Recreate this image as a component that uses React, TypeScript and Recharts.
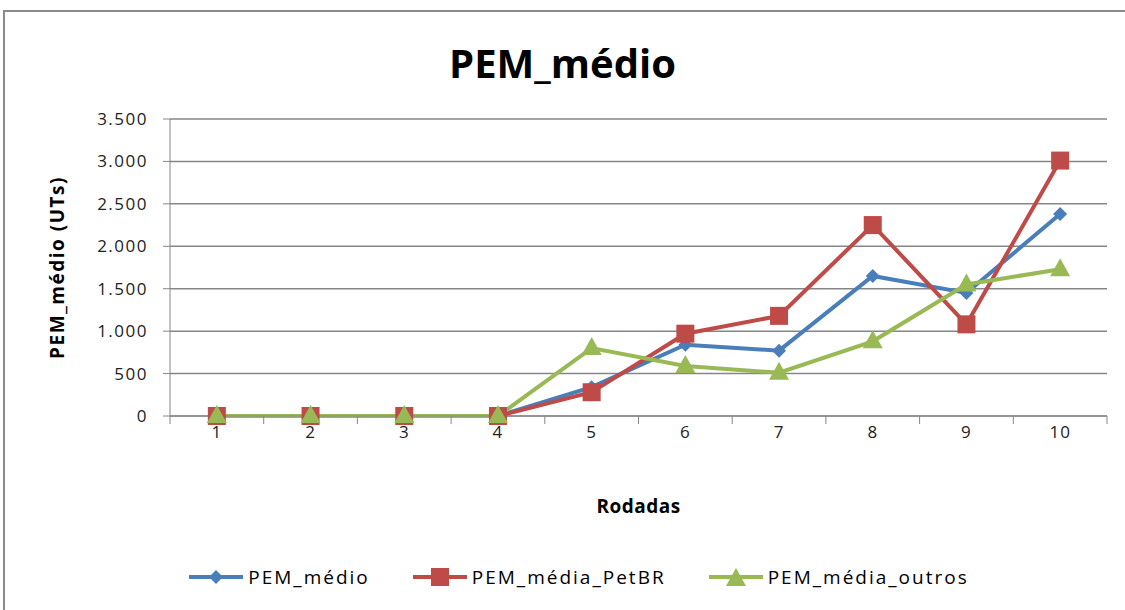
import React from "react";
import {
  LineChart,
  Line,
  XAxis,
  YAxis,
  CartesianGrid,
  Legend,
} from "recharts";

// Rodadas 1..10
const rodadas = ["1", "2", "3", "4", "5", "6", "7", "8", "9", "10"];
const pemMedio = [0, 0, 0, 0, 340, 840, 770, 1650, 1450, 2380];
const pemMediaPetBR = [0, 0, 0, 0, 280, 970, 1180, 2250, 1080, 3010];
const pemMediaOutros = [0, 0, 0, 0, 800, 590, 510, 880, 1550, 1730];
const yTicks = [0, 500, 1000, 1500, 2000, 2500, 3000, 3500];

const BLUE = "#4A7EBB";
const RED = "#BE4B48";
const GREEN = "#98B954";
const GRID = "#868686";
const FONT = "'Open Sans', sans-serif";

const data = rodadas.map((r, i) => ({
  rodada: r,
  medio: pemMedio[i],
  petbr: pemMediaPetBR[i],
  outros: pemMediaOutros[i],
}));

const fmt = (v: number) =>
  String(v).replace(/\B(?=(\d{3})+(?!\d))/g, ".");

const Diamond = (props: any) => {
  const { cx, cy, fill } = props;
  if (cx == null || cy == null) return null;
  const s = 7;
  return (
    <path
      d={`M${cx},${cy - s} L${cx + s},${cy} L${cx},${cy + s} L${cx - s},${cy} Z`}
      fill={fill}
    />
  );
};

const Square = (props: any) => {
  const { cx, cy, fill } = props;
  if (cx == null || cy == null) return null;
  const s = 9;
  return <rect x={cx - s} y={cy - s} width={s * 2} height={s * 2} fill={fill} />;
};

const Triangle = (props: any) => {
  const { cx, cy, fill } = props;
  if (cx == null || cy == null) return null;
  return (
    <path
      d={`M${cx},${cy - 11} L${cx + 10},${cy + 7} L${cx - 10},${cy + 7} Z`}
      fill={fill}
    />
  );
};

// category labels centred, tick marks between categories (Excel style)
const XTick = (props: any) => {
  const { x, y, payload, index } = props;
  const half = 937 / rodadas.length / 2;
  return (
    <g>
      <line x1={x - half} y1={y - 8} x2={x - half} y2={y} stroke={GRID} />
      {index === rodadas.length - 1 && (
        <line x1={x + half} y1={y - 8} x2={x + half} y2={y} stroke={GRID} />
      )}
      <text
        x={x}
        y={y + 14}
        textAnchor="middle"
        fontSize={17}
        letterSpacing={1}
        fill="#222"
        fontFamily={FONT}
      >
        {payload.value}
      </text>
    </g>
  );
};

const legendItems = [
  { name: "PEM_médio", color: BLUE, mark: "diamond" },
  { name: "PEM_média_PetBR", color: RED, mark: "square" },
  { name: "PEM_média_outros", color: GREEN, mark: "triangle" },
];

const LegendContent = () => (
  <div
    style={{
      display: "flex",
      justifyContent: "center",
      alignItems: "center",
      height: 24,
      fontFamily: FONT,
      fontSize: 19,
      letterSpacing: 2,
      color: "#000",
      gap: 42,
      paddingRight: 40,
    }}
  >
    {legendItems.map((it) => (
      <div key={it.name} style={{ display: "flex", alignItems: "center" }}>
        <svg width={56} height={22}>
          <line x1={1} y1={11} x2={55} y2={11} stroke={it.color} strokeWidth={4} />
          {it.mark === "diamond" && <Diamond cx={28} cy={11} fill={it.color} />}
          {it.mark === "square" && <Square cx={28} cy={11} fill={it.color} />}
          {it.mark === "triangle" && <Triangle cx={28} cy={13} fill={it.color} />}
        </svg>
        <span style={{ marginLeft: 4 }}>{it.name}</span>
      </div>
    ))}
  </div>
);

export default function App() {
  return (
    <div style={{ position: "relative", width: 1125, height: 610, background: "#fff", overflow: "hidden" }}>
      <style>{`body{margin:0}`}</style>
      <div
        style={{
          position: "absolute",
          left: 3,
          top: 10,
          width: 1140,
          height: 620,
          borderTop: "2px solid #8a8a8a",
          borderLeft: "2px solid #8a8a8a",
          boxSizing: "border-box",
        }}
      />
      <div
        style={{
          position: "absolute",
          top: 35,
          left: 0,
          width: 1125,
          textAlign: "center",
          fontFamily: FONT,
          fontWeight: "bold",
          fontSize: 40,
          color: "#000",
        }}
      >
        PEM_médio
      </div>
      <div style={{ position: "absolute", left: 0, top: 0 }}>
        <LineChart
          width={1125}
          height={610}
          data={data}
          margin={{ top: 119, right: 18, left: 90, bottom: 21 }}
        >
          <CartesianGrid vertical={false} stroke={GRID} strokeWidth={1.5} />
          <XAxis
            dataKey="rodada"
            height={149}
            stroke={GRID}
            padding={{ left: 46.85, right: 46.85 }}
            tickLine={false}
            tick={<XTick />}
            interval={0}
            label={{
              value: "Rodadas",
              position: "insideTop",
              offset: 84,
              fontFamily: FONT,
              fontWeight: "bold",
              fontSize: 19,
              letterSpacing: 0.5,
              fill: "#000",
            }}
          />
          <YAxis
            width={80}
            domain={[0, 3500]}
            ticks={yTicks}
            interval={0}
            tickFormatter={fmt}
            stroke={GRID}
            tickSize={7}
            tickMargin={15}
            tick={{ fontFamily: FONT, fontSize: 17, letterSpacing: 1.5, fill: "#222" }}
            label={{
              value: "PEM_médio (UTs)",
              angle: -90,
              position: "insideLeft",
              offset: -33,
              style: { textAnchor: "middle" },
              fontFamily: FONT,
              fontWeight: "bold",
              fontSize: 19,
              letterSpacing: 1.5,
              fill: "#000",
            }}
          />
          <Legend
            verticalAlign="bottom"
            height={24}
            content={<LegendContent />}
          />
          <Line
            dataKey="medio"
            name="PEM_médio"
            stroke={BLUE}
            strokeWidth={4}
            dot={<Diamond fill={BLUE} />}
            activeDot={false}
            isAnimationActive={false}
          />
          <Line
            dataKey="petbr"
            name="PEM_média_PetBR"
            stroke={RED}
            strokeWidth={4}
            dot={<Square fill={RED} />}
            activeDot={false}
            isAnimationActive={false}
          />
          <Line
            dataKey="outros"
            name="PEM_média_outros"
            stroke={GREEN}
            strokeWidth={4}
            dot={<Triangle fill={GREEN} />}
            activeDot={false}
            isAnimationActive={false}
          />
        </LineChart>
      </div>
    </div>
  );
}
